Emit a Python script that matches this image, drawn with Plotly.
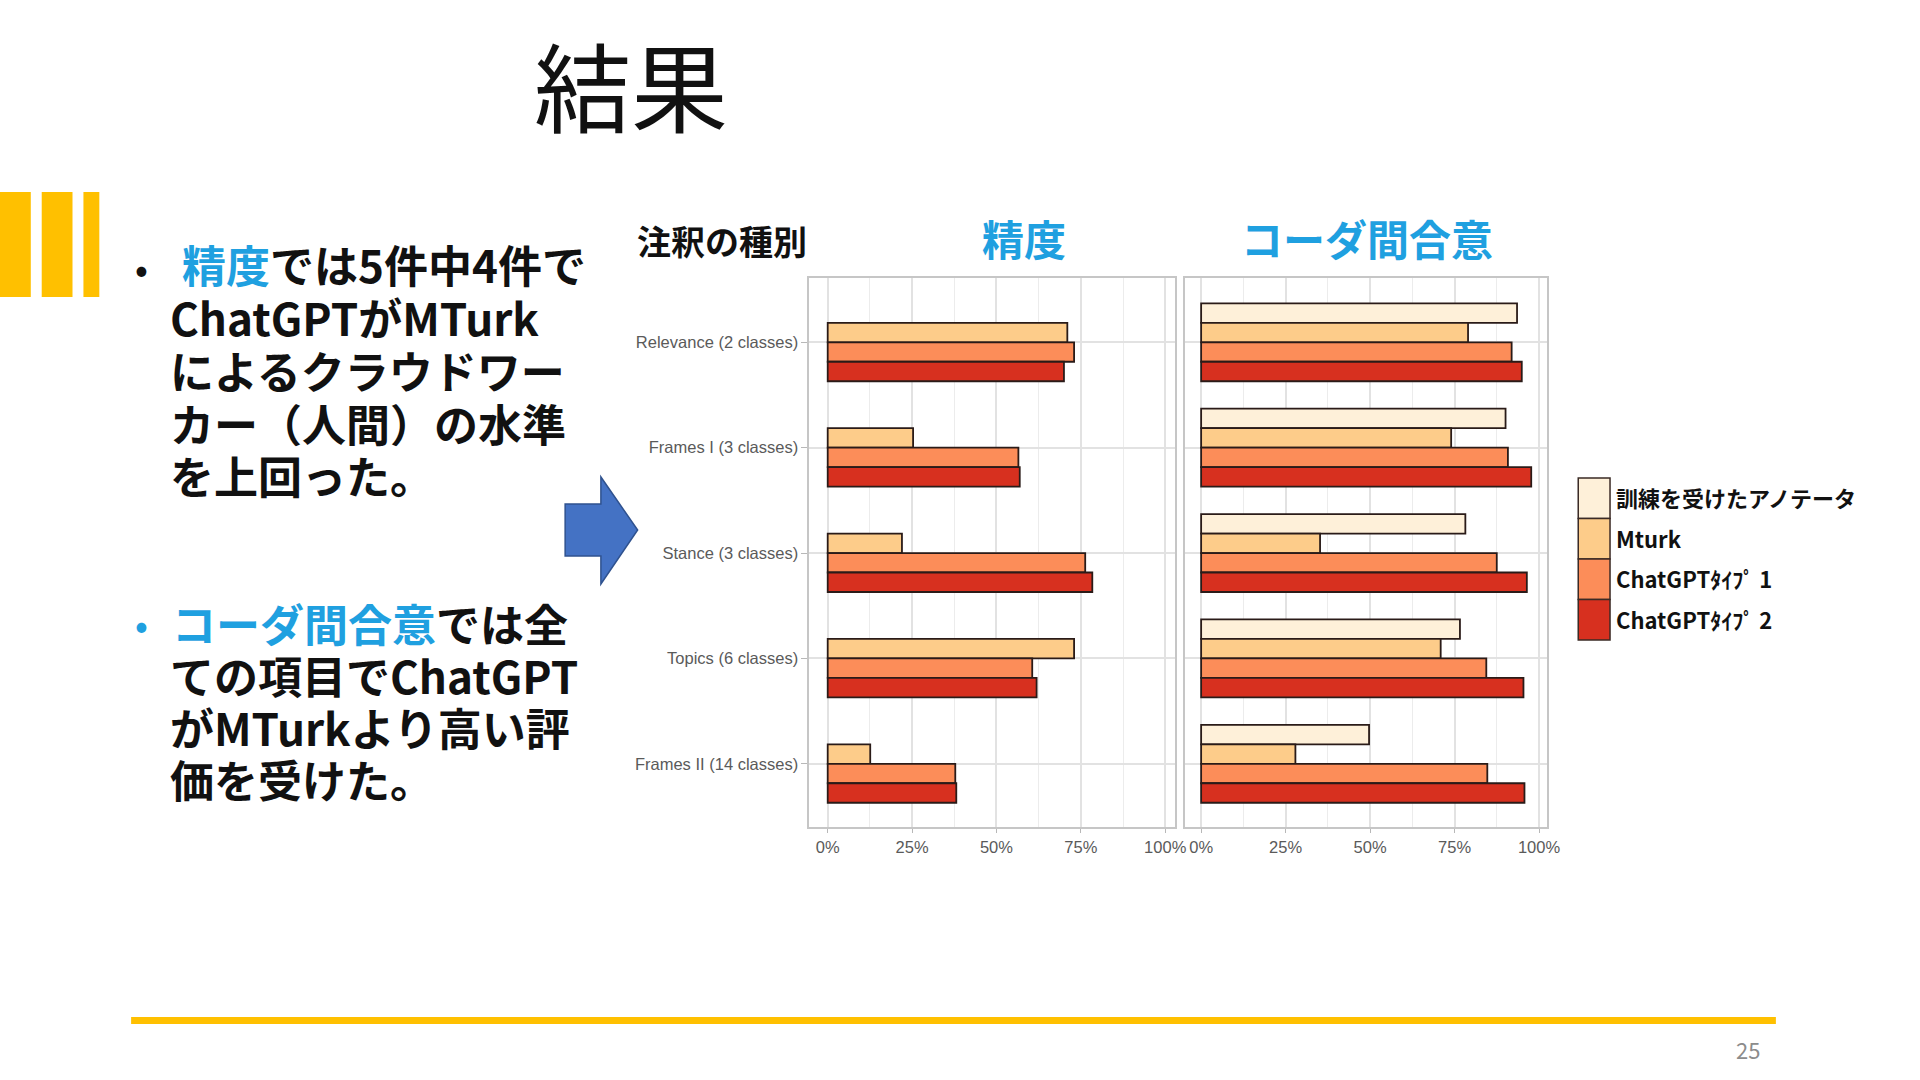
import plotly.graph_objects as go

W, H = 1920, 1080
JP = "Noto Sans CJK JP"
NARROW = "Liberation Sans Narrow, Arial Narrow, Liberation Sans, sans-serif"
BLUE = "#1FA0E0"
YELLOW = "#FFC000"

categories = ["Relevance (2 classes)", "Frames I (3 classes)", "Stance (3 classes)",
              "Topics (6 classes)", "Frames II (14 classes)"]
series = ["訓練を受けたアノテータ", "Mturk", "ChatGPTﾀｲﾌﾟ 1", "ChatGPTﾀｲﾌﾟ 2"]
colors = ["#FEF0D9", "#FDCC8A", "#FC8D59", "#D7301F"]

# 精度 (accuracy): no value for trained annotators
acc_trained = [None, None, None, None, None]
acc_mturk = [0.71, 0.253, 0.22, 0.73, 0.126]
acc_gpt1 = [0.73, 0.565, 0.763, 0.606, 0.378]
acc_gpt2 = [0.70, 0.569, 0.784, 0.619, 0.381]

# コーダ間合意 (intercoder agreement)
icr_trained = [0.935, 0.901, 0.782, 0.766, 0.497]
icr_mturk = [0.79, 0.74, 0.352, 0.709, 0.279]
icr_gpt1 = [0.919, 0.908, 0.875, 0.844, 0.847]
icr_gpt2 = [0.949, 0.977, 0.964, 0.954, 0.957]

x_ticks = [0, 0.25, 0.5, 0.75, 1.0]

bullet1 = ["<span style='color:" + BLUE + "'>精度</span>では5件中4件で",
           "ChatGPTがMTurk", "によるクラウドワー", "カー（人間）の水準", "を上回った。"]
bullet2 = ["<span style='color:" + BLUE + "'>コーダ間合意</span>では全",
           "ての項目でChatGPT", "がMTurkより高い評", "価を受けた。"]


def fx(px):
    return px / W


def fy(py):
    return 1 - py / H


fig = go.Figure()

# bars, 4 slots per category (ggplot dodge)
group_w = 0.74
bar_w = group_w / len(series)
panels = [("x", "y", [acc_trained, acc_mturk, acc_gpt1, acc_gpt2]),
          ("x2", "y2", [icr_trained, icr_mturk, icr_gpt1, icr_gpt2])]
for xa, ya, values in panels:
    for i, (name, col, vals) in enumerate(zip(series, colors, values)):
        fig.add_trace(go.Bar(
            y=categories, x=vals, orientation="h", name=name,
            marker=dict(color=col, line=dict(color="#2a1b18", width=1.8)),
            width=bar_w, offset=-group_w / 2 + i * bar_w,
            xaxis=xa, yaxis=ya, showlegend=False))

tick_font = dict(family=NARROW, size=16.5, color="#5A5A5A")
x_common = dict(
    tickvals=x_ticks, tickformat=".0%", showgrid=True, gridcolor="#E2E2E2", gridwidth=1.6,
    minor=dict(dtick=0.125, tick0=0, showgrid=True, gridcolor="#ECECEC", gridwidth=1.3),
    zeroline=False, showline=True, mirror=True, linecolor="#C6C6C6", linewidth=2,
    ticks="outside", ticklen=4, tickcolor="#B8B8B8", tickfont=tick_font,
)
y_common = dict(
    type="category", categoryorder="array", categoryarray=categories,
    range=[4.6, -0.61], domain=[fy(827), fy(278)],
    showgrid=True, gridcolor="#E2E2E2", gridwidth=1.6, zeroline=False,
    showline=True, mirror=True, linecolor="#C6C6C6", linewidth=2,
)

fig.update_layout(
    width=W, height=H, margin=dict(l=0, r=0, t=0, b=0),
    paper_bgcolor="white", plot_bgcolor="white", showlegend=False,
    xaxis=dict(domain=[fx(815), fx(1183)], range=[-0.054, 1.029], anchor="y", **x_common),
    xaxis2=dict(domain=[fx(1193), fx(1558)], range=[-0.048, 1.025], anchor="y2", **x_common),
    yaxis=dict(anchor="x", ticks="outside", ticklen=6, tickcolor="#B8B8B8",
               tickfont=tick_font, **y_common),
    yaxis2=dict(anchor="x2", matches="y", showticklabels=False, ticks="", **y_common),
)


def text(x, y, s, size, color="#111111", weight="bold", anchor="left", family=JP, h=None):
    fig.add_annotation(x=fx(x), y=fy(y), xref="paper", yref="paper", text=s,
                       showarrow=False, xanchor=anchor, yanchor="middle", align="left",
                       height=h, valign="middle", borderpad=0,
                       font=dict(family=family, size=size, color=color, weight=weight))


def rect(x0, y0, x1, y1, fill, line_color=None, lw=0):
    fig.add_shape(type="rect", xref="paper", yref="paper",
                  x0=fx(x0), x1=fx(x1), y0=fy(y1), y1=fy(y0), fillcolor=fill,
                  line=dict(color=line_color or fill, width=lw), layer="above")


# slide title
text(635, 83, "結果", 97, weight="normal", anchor="center")

# yellow marks on the left and bottom rule
for x0, x1 in [(0, 31), (42, 73), (84, 100)]:
    rect(x0, 192, x1, 297, YELLOW)
rect(132, 1017, 1788, 1024, YELLOW)
text(1760, 1049, "25", 22, color="#8C8C8C", weight="normal", anchor="center")

# bullet text, one annotation per line (tight slide leading)
text(142, 267, "•", 34, anchor="center")
starts1 = [182, 170, 170, 170, 170]
for x, y, s in zip(starts1, [264, 317, 370, 423, 475], bullet1):
    text(x, y, s, 44, h=50)
text(142, 624, "•", 34, color=BLUE, anchor="center")
starts2 = [172, 170, 170, 170]
for x, y, s in zip(starts2, [623, 675, 727, 779], bullet2):
    text(x, y, s, 44, h=50)

# blue arrow
pts = [(569, 504), (605, 504), (605, 477), (642, 530), (605, 584), (605, 556), (569, 556)]
path = "M " + " L ".join(f"{fx(x):.5f},{fy(y):.5f}" for x, y in pts) + " Z"
fig.add_shape(type="path", xref="paper", yref="paper", path=path,
              fillcolor="#4472C4", line=dict(color="#2F528F", width=1.5))

# chart headings
text(727, 240, "注釈の種別", 34, anchor="center")
text(1031, 238, "精度", 42, color=BLUE, anchor="center")
text(1376, 238, "コーダ間合意", 42, color=BLUE, anchor="center")

# legend (large ggplot-style keys)
row_top, row_h = 478, 40.5
for i, (name, col) in enumerate(zip(series, colors)):
    y0 = row_top + i * row_h
    rect(1589, y0, 1621, y0 + row_h, col, "#3a2a25", 1.5)
    text(1626, y0 + row_h / 2 - 1, name, 22)

fig.write_html("out.html", config={"displayModeBar": False},
               post_script="document.body.style.margin='0';")
